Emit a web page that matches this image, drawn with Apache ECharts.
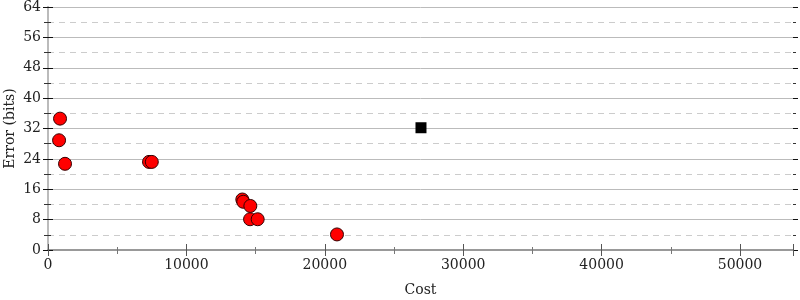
<!DOCTYPE html>
<html><head><meta charset="utf-8">
<script src="https://cdn.jsdelivr.net/npm/echarts@6/dist/echarts.min.js"></script>
<style>html,body{margin:0;padding:0;background:#fff}#c{width:800px;height:300px}</style>
</head><body><div id="c"></div>
<script>
const costRed = [870, 800, 1230, 7300, 7500, 14040, 14110, 14620, 14600, 15150, 20880];
const errorRed = [34.6, 28.9, 22.7, 23.2, 23.2, 13.3, 12.7, 11.6, 8.1, 8.1, 4.1];
const costBlack = [26950];
const errorBlack = [32.2];
const xTicks = [0, 10000, 20000, 30000, 40000, 50000];
const yTicks = [0, 8, 16, 24, 32, 40, 48, 56, 64];

const font = 'DejaVu Serif';
const fs = 14;
const chart = echarts.init(document.getElementById('c'));
const yBase = {type:'value', min:0, max:64, interval:8, splitNumber:8};
const xBase = {type:'value', min:0, max:53830, interval:10000};
chart.setOption({
  animation:false,
  grid:{left:48, right:7, top:7, bottom:50, containLabel:false, outerBoundsMode:'none'},
  xAxis:[
    Object.assign({}, xBase, {position:'bottom', name:'Cost', nameLocation:'middle', nameGap:33,
      nameTextStyle:{fontFamily:font, fontSize:fs, color:'#222'},
      axisLine:{show:true, lineStyle:{color:'#999', width:2}},
      axisTick:{show:true, inside:false, length:6, lineStyle:{color:'#555'}},
      minorTick:{show:true, splitNumber:2, length:4, lineStyle:{color:'#777'}},
      axisLabel:{fontFamily:font, fontSize:fs, color:'#222', margin:8, showMaxLabel:false,
        formatter:v => xTicks.includes(v) ? String(v) : ''},
      splitLine:{show:false}}),
    Object.assign({}, xBase, {position:'bottom',
      axisLine:{show:false}, axisTick:{show:true, inside:true, length:6, lineStyle:{color:'#555'}},
      minorTick:{show:true, splitNumber:2, inside:true, length:3, lineStyle:{color:'#777'}},
      axisLabel:{show:false}, splitLine:{show:false}}),
    Object.assign({}, xBase, {position:'top',
      axisLine:{show:true, lineStyle:{color:'#999', width:2}}, axisTick:{show:false},
      axisLabel:{show:false}, splitLine:{show:false}})
  ],
  yAxis:[
    Object.assign({}, yBase, {position:'left', name:'Error (bits)', nameLocation:'middle', nameGap:31,
      nameMoveOverlap:false,
      nameTextStyle:{fontFamily:font, fontSize:fs, color:'#222'},
      axisLine:{show:true, lineStyle:{color:'#bbb', width:2}},
      axisTick:{show:true, inside:false, length:5, lineStyle:{color:'#111'}},
      minorTick:{show:true, splitNumber:2, length:4, lineStyle:{color:'#333'}},
      axisLabel:{fontFamily:font, fontSize:fs, color:'#222', margin:7,
        formatter:v => yTicks.includes(v) ? String(v) : ''},
      splitLine:{show:true, lineStyle:{color:'#bbb', width:1}},
      minorSplitLine:{show:true, lineStyle:{color:'#ccc', type:[6,5], width:1}}}),
    Object.assign({}, yBase, {position:'left',
      axisLine:{show:false}, axisTick:{show:true, inside:true, length:5, lineStyle:{color:'#111'}},
      minorTick:{show:true, splitNumber:2, inside:true, length:3, lineStyle:{color:'#333'}},
      axisLabel:{show:false}, splitLine:{show:false}}),
    Object.assign({}, yBase, {position:'right',
      axisLine:{show:true, lineStyle:{color:'#bbb', width:2}},
      axisTick:{show:true, inside:true, length:5, lineStyle:{color:'#111'}},
      minorTick:{show:true, splitNumber:2, inside:true, length:3, lineStyle:{color:'#333'}},
      axisLabel:{show:false}, splitLine:{show:false}}),
    Object.assign({}, yBase, {position:'right',
      axisLine:{show:false}, axisTick:{show:true, inside:false, length:5, lineStyle:{color:'#111'}},
      minorTick:{show:true, splitNumber:2, inside:false, length:3, lineStyle:{color:'#333'}},
      axisLabel:{show:false}, splitLine:{show:false}})
  ],
  series:[
    {type:'scatter', xAxisIndex:0, yAxisIndex:0, symbol:'circle', symbolSize:13,
      itemStyle:{color:'#f00', borderColor:'#300', borderWidth:1, opacity:1},
      data:costRed.map((c,i)=>[c, errorRed[i]])},
    {type:'scatter', xAxisIndex:0, yAxisIndex:0, symbol:'rect', symbolSize:11,
      itemStyle:{color:'#000', opacity:1},
      data:costBlack.map((c,i)=>[c, errorBlack[i]])}
  ]
});
</script></body></html>
